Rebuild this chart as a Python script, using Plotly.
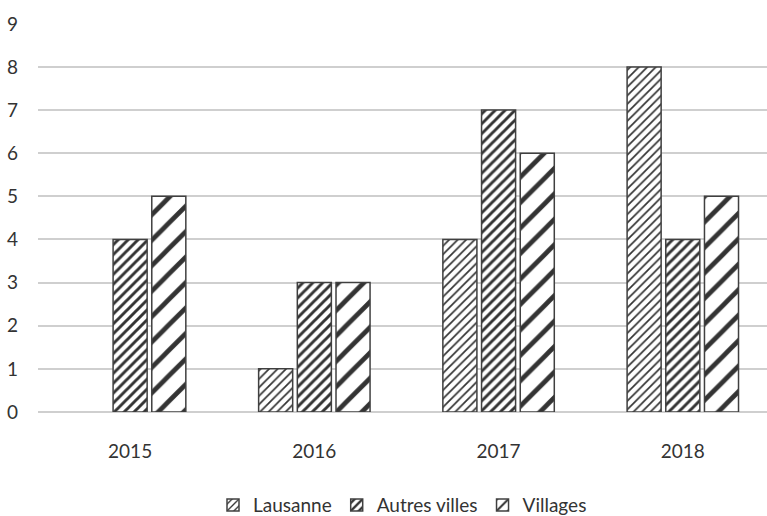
import plotly.graph_objects as go

years = ["2015", "2016", "2017", "2018"]
lausanne = [0, 1, 4, 8]
autres = [4, 3, 7, 4]
villages = [5, 3, 6, 5]

series = [
    ("Lausanne", lausanne, dict(shape="/", size=6, solidity=0.28, fgcolor="#333333")),
    ("Autres villes", autres, dict(shape="/", size=7, solidity=0.42, fgcolor="#333333")),
    ("Villages", villages, dict(shape="/", size=18, solidity=0.26, fgcolor="#333333")),
]

fig = go.Figure()
for name, vals, pat in series:
    fig.add_trace(go.Bar(
        x=years, y=[v if v else None for v in vals], name=name,
        marker=dict(color="white", pattern=dict(bgcolor="white", fillmode="replace", **pat),
                    line=dict(color="#404040", width=1.5)),
    ))

font = "Lato, sans-serif"
fig.update_layout(
    width=767, height=516,
    margin=dict(l=38, r=0, t=23, b=104),
    paper_bgcolor="white", plot_bgcolor="white",
    barmode="group", bargap=0.37, bargroupgap=0.12,
    font=dict(family=font, size=19, color="#333333"),
    showlegend=True,
    legend=dict(orientation="h", x=0.5, xanchor="center", xref="paper",
                y=0.021, yanchor="middle", yref="container",
                font=dict(size=19), itemwidth=30, traceorder="normal"),
    xaxis=dict(range=[-0.5, 3.457], showgrid=False, showline=False, ticks="",
               ticklabelstandoff=26, tickfont=dict(size=19)),
    yaxis=dict(range=[0, 9.02], dtick=1, showgrid=True, gridcolor="#cfcfcf", gridwidth=1.6,
               zeroline=True, zerolinecolor="#cfcfcf", zerolinewidth=1.6,
               showline=False, ticks="", ticklabelstandoff=19, tickfont=dict(size=19)),
)

fig.write_html("out.html")
